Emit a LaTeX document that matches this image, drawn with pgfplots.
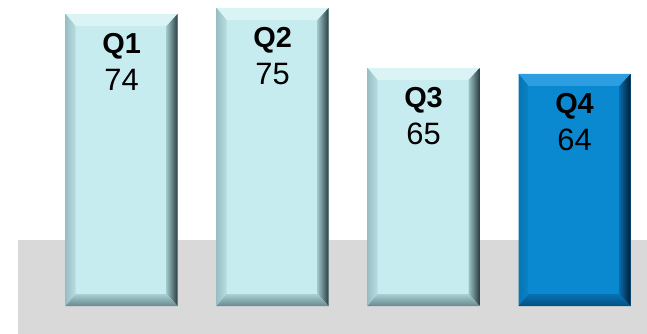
\documentclass[border=0pt]{standalone}
\usepackage{fontspec}
\setmainfont{Liberation Sans}
\usepackage{pgfplots}
\pgfplotsset{compat=1.18}
\definecolor{floor}{HTML}{D9D9D9}
\definecolor{lface}{HTML}{C6ECEF}
\definecolor{ltop}{HTML}{DAF4F6}
\definecolor{lleftout}{HTML}{98C0C4}
\definecolor{lleftin}{HTML}{B8DEE1}
\definecolor{lrightout}{HTML}{2A3D40}
\definecolor{lrightin}{HTML}{9CC4C7}
\definecolor{lbotout}{HTML}{66898C}
\definecolor{lbotin}{HTML}{A9D0D3}
\definecolor{dface}{HTML}{0A89D1}
\definecolor{dtop}{HTML}{2C9FE2}
\definecolor{dleftout}{HTML}{0874B4}
\definecolor{dleftin}{HTML}{0A82C8}
\definecolor{drightout}{HTML}{021E33}
\definecolor{drightin}{HTML}{0868A6}
\definecolor{dbotout}{HTML}{04507F}
\definecolor{dbotin}{HTML}{0772B4}
\begin{document}
\begin{tikzpicture}
\path (0,0) rectangle (647bp,334bp);
\fill[floor] (18bp,0) rectangle (647bp,94bp);
\begin{axis}[
  at={(0,28bp)}, anchor=south west,
  scale only axis, width=647bp, height=306bp,
  hide axis,
  xmin=-0.805, xmax=3.48,
  ymin=25.33, ymax=76.33,
]
\addplot[scatter, only marks, mark=*, mark size=0.1pt,
  visualization depends on={value \thisrow{y} \as \yv},
  visualization depends on={value \thisrow{q} \as \qname},
  visualization depends on={value \thisrow{c} \as \cpre},
  scatter/@pre marker code/.code={%
    \begingroup
    \pgfkeys{/pgf/fpu=false}%
    \pgfmathsetmacro\hh{(\yv-25.33)*6}%
    \pgfmathsetmacro\hi{\hh-12}%
    \colorlet{cface}{\cpre face}\colorlet{ctop}{\cpre top}%
    \colorlet{cleftout}{\cpre leftout}\colorlet{cleftin}{\cpre leftin}%
    \colorlet{crightout}{\cpre rightout}\colorlet{crightin}{\cpre rightin}%
    \colorlet{cbotout}{\cpre botout}\colorlet{cbotin}{\cpre botin}%
    \fill[cface, draw=none] (-56bp,0bp) rectangle (56bp,-\hh bp);
    \fill[ctop, draw=none] (-56bp,0bp) -- (56bp,0bp) -- (45bp,-12bp) -- (-46bp,-12bp) -- cycle;
    \shade[left color=cleftout, right color=cleftin, draw=none] (-56bp,0bp) -- (-46bp,-12bp) -- (-46bp,-\hi bp) -- (-56bp,-\hh bp) -- cycle;
    \shade[left color=crightin, right color=crightout, draw=none] (56bp,0bp) -- (56bp,-\hh bp) -- (45bp,-\hi bp) -- (45bp,-12bp) -- cycle;
    \shade[top color=cbotin, bottom color=cbotout, draw=none] (-56bp,-\hh bp) -- (56bp,-\hh bp) -- (45bp,-\hi bp) -- (-46bp,-\hi bp) -- cycle;
    \node[anchor=base, inner sep=0pt, text=black, draw=none] at (0bp,-40bp)
      {\makebox[0pt]{\fontsize{29}{32}\selectfont\bfseries\qname}\makebox[0pt]{\raisebox{-37bp}{\fontsize{31}{36}\selectfont\yv}}};
    \endgroup
    \begin{scope}\pgfsetfillopacity{0}\pgfsetstrokeopacity{0}},
  scatter/@post marker code/.code={\end{scope}},
] table {
x y q c
0 74 Q1 l
1 75 Q2 l
2 65 Q3 l
3 64 Q4 d
};
\end{axis}
\end{tikzpicture}
\end{document}
